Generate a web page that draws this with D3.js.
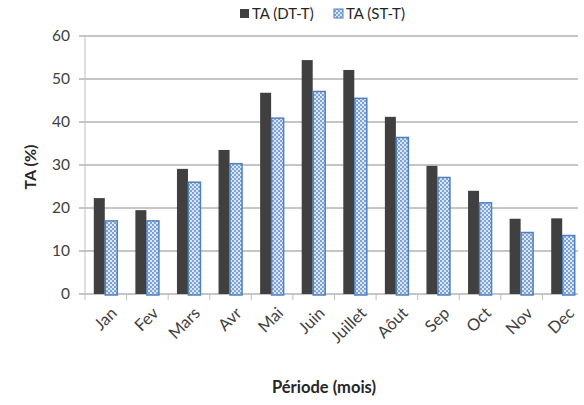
<!DOCTYPE html>
<html>
<head>
<meta charset="utf-8">
<script src="https://cdn.jsdelivr.net/npm/d3@7"></script>
<style>
  body { margin: 0; background: #fff; }
  svg { font-family: Lato, "Open Sans", sans-serif; }
</style>
</head>
<body>
<div id="chart"></div>
<script>
var months = ["Jan", "Fev", "Mars", "Avr", "Mai", "Juin", "Juillet", "Aôut", "Sep", "Oct", "Nov", "Dec"];
var seriesNames = ["TA (DT-T)", "TA (ST-T)"];
var dtValues = [22.3, 19.5, 29.1, 33.5, 46.8, 54.4, 52.1, 41.2, 29.8, 24.0, 17.5, 17.6];
var stValues = [17.0, 17.0, 26.0, 30.3, 40.9, 47.1, 45.5, 36.4, 27.1, 21.2, 14.3, 13.6];
var yTicks = [0, 10, 20, 30, 40, 50, 60];

var W = 584, H = 405;
var margin = {top: 36, right: 0, bottom: 111, left: 85};

var svg = d3.select("#chart").append("svg")
    .attr("width", W).attr("height", H);

// checker pattern for the second series
var defs = svg.append("defs");
var pat = defs.append("pattern").attr("id", "chk")
    .attr("patternUnits", "userSpaceOnUse").attr("width", 4).attr("height", 4);
pat.append("rect").attr("width", 4).attr("height", 4).attr("fill", "#dbe6f4");
pat.append("rect").attr("width", 2).attr("height", 2).attr("fill", "#7fa3d4");
pat.append("rect").attr("x", 2).attr("y", 2).attr("width", 2).attr("height", 2).attr("fill", "#7fa3d4");

var x = d3.scaleBand().domain(months).range([margin.left, W - margin.right]);
var y = d3.scaleLinear().domain([0, 60]).range([H - margin.bottom, margin.top]);

// gridlines
svg.append("g").selectAll("line").data(yTicks).enter().append("line")
    .attr("x1", margin.left - 6).attr("x2", W - 6)
    .attr("y1", function (d) { return y(d); }).attr("y2", function (d) { return y(d); })
    .style("stroke", "#8c8c8c").style("stroke-width", 1);

// y labels
svg.append("g").selectAll("text").data(yTicks).enter().append("text")
    .attr("x", margin.left - 15).attr("y", function (d) { return y(d); })
    .attr("dy", "0.35em").attr("text-anchor", "end")
    .style("font-size", "15.5px").style("fill", "#404040")
    .text(function (d) { return d; });

// vertical axis line
svg.append("line")
    .attr("x1", margin.left).attr("x2", margin.left)
    .attr("y1", y(60)).attr("y2", y(0) + 6)
    .style("stroke", "#bfbfbf");

// category ticks
svg.append("g").selectAll("line").data(months.slice(1)).enter().append("line")
    .attr("x1", function (d) { return x(d); }).attr("x2", function (d) { return x(d); })
    .attr("y1", y(0)).attr("y2", y(0) + 6)
    .style("stroke", "#bfbfbf");

var bw = 11;
var g = svg.append("g");
months.forEach(function (m, i) {
  var cx = x(m) + x.bandwidth() / 2 - 1;
  g.append("rect")
    .attr("x", cx - bw).attr("y", y(dtValues[i]))
    .attr("width", bw).attr("height", y(0) - y(dtValues[i]))
    .style("fill", "#404040");
  g.append("rect")
    .attr("x", cx + 0.5).attr("y", y(stValues[i]))
    .attr("width", bw + 1).attr("height", y(0) - y(stValues[i]) + 1)
    .style("fill", "url(#chk)").style("stroke", "#4f81bd").style("stroke-width", 1.5);
});

// x labels
svg.append("g").selectAll("text").data(months).enter().append("text")
    .attr("transform", function (d) {
      return "translate(" + (x(d) + x.bandwidth() / 2 + 4) + "," + (y(0) + 12) + ")rotate(-45)";
    })
    .attr("text-anchor", "end").attr("dy", "0.7em")
    .style("font-size", "16.5px").style("fill", "#404040")
    .text(function (d) { return d; });

// axis titles
svg.append("text")
    .attr("transform", "translate(36," + ((y(0) + y(60)) / 2 + 2) + ")rotate(-90)")
    .attr("text-anchor", "middle")
    .style("font-size", "16px").style("font-weight", "bold").style("fill", "#262626")
    .text("TA (%)");
svg.append("text")
    .attr("x", 324).attr("y", 393).attr("text-anchor", "middle")
    .style("font-size", "16.5px").style("font-weight", "bold").style("fill", "#262626")
    .text("Période (mois)");

// legend
var leg = svg.append("g");
var legX = [240, 334];
seriesNames.forEach(function (s, i) {
  leg.append("rect").attr("x", legX[i]).attr("y", 9).attr("width", 9).attr("height", 9)
    .style("fill", i === 0 ? "#404040" : "url(#chk)")
    .style("stroke", i === 0 ? "none" : "#4f81bd");
  leg.append("text").attr("x", legX[i] + 12).attr("y", 14).attr("dy", "0.35em")
    .style("font-size", "15px").style("fill", "#262626").text(s);
});
</script>
</body>
</html>
